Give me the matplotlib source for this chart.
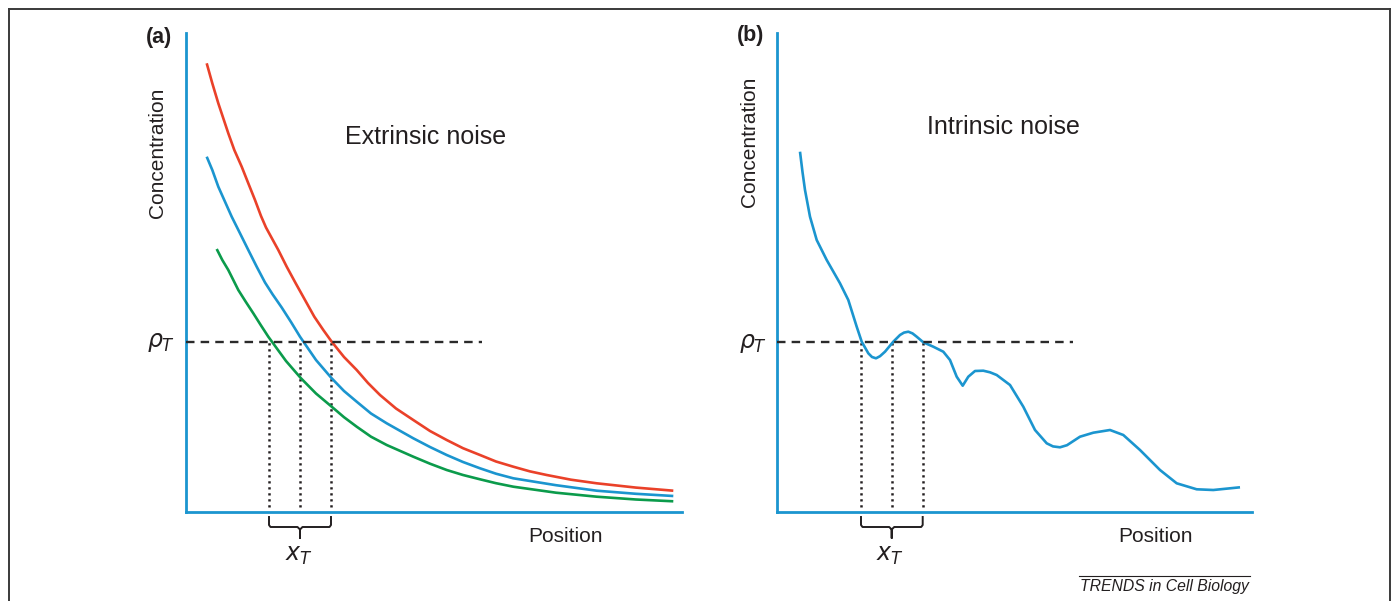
import matplotlib
matplotlib.use("Agg")
import matplotlib.pyplot as plt
from matplotlib.lines import Line2D

plt.rcParams['font.family'] = ['Liberation Sans', 'DejaVu Sans']
plt.rcParams['mathtext.fontset'] = 'dejavusans'

# ---------------- data (arbitrary units: position, concentration) ----------------
# Panel (a): extrinsic noise - three gradients
red_x = [20.7, 26.3, 32.3, 42.3, 48.3, 55.7, 62.3, 69, 75, 80, 86, 92.3, 100.7, 109.7, 119, 128.3, 137.3,
         145.7, 158, 170.7, 182, 194, 210, 227.3, 244, 260.7, 277, 294, 310, 327.3, 344, 360.7, 385, 410.7, 450, 487.3]
red_y = [448.7, 428.7, 408.7, 378.7, 362, 345.3, 328.7, 312, 296, 284.5, 273.5, 262, 245.3, 228.7, 212, 195.3, 182,
         170.3, 155, 142, 129, 117, 103.5, 92, 81, 72, 63.8, 57, 50.5, 45.3, 40.6, 37, 32.3, 28.7, 24.4, 21.3]

blue_x = [20.7, 26.3, 32.3, 39, 45.7, 54, 62.3, 70.7, 79, 86.7, 95.7, 105, 114, 130, 145.7, 158, 170.7, 185,
          200.7, 227.3, 244, 260.7, 277, 294, 310, 327.3, 370, 410.7, 450, 487.3]
blue_y = [355.3, 342, 325.3, 310.3, 295.3, 278.7, 262, 245.3, 229.5, 217.5, 204.5, 190, 175.3, 152, 133.7, 121, 110.3, 98.5,
          88.7, 73.7, 65, 57, 50, 43.7, 38.3, 33.7, 26.8, 21.3, 18.2, 16]

green_x = [30.7, 36.3, 42.3, 47.3, 52.3, 59.7, 67.3, 74.7, 82.3, 100, 115, 130, 145.7, 158, 170.7, 185, 200.7,
           227.3, 244, 260.7, 277, 294, 310, 327.3, 370, 410.7, 450, 487.3]
green_y = [263, 252, 242, 232, 222, 210.3, 198.7, 187, 175.3, 151, 133.7, 118.5, 105.3, 94.8, 85.3, 75.3, 67,
           55.3, 48.3, 42, 37, 32.7, 28.8, 25.3, 19.3, 15.3, 12.5, 10.7]

threshold_a = 170.5
crossings_a = [83, 114, 145]
dash_end_a = 296

# Panel (b): intrinsic noise - one noisy gradient
noisy_x = [23, 25.5, 28, 33, 39.7, 49.7, 63, 71.3, 79.7, 84.7, 91.3, 95, 99, 103, 108, 116.3, 123, 127, 131.3, 135.5, 139.7,
           146.3, 156.3, 166.3, 173, 179.7, 185.7, 191.3, 198, 206.3, 213, 219.7, 233, 246.3, 258,
           269.7, 276, 283, 290, 303, 316.3, 333, 346.3, 363, 383, 399.7, 419.7, 436.3, 463]
noisy_y = [360.3, 340, 322, 295.3, 272, 252, 228.7, 212, 185.3, 170.3, 158.7, 155, 153.7, 155.8, 160.3, 170.3, 177, 179.4, 180.3, 178.6, 175.3,
           169.7, 165.3, 160.3, 152, 135.3, 126.3, 135.3, 141, 141.3, 139.7, 137, 127, 105.3, 82,
           68.7, 65.6, 64.7, 66.8, 75.3, 79.3, 82, 77, 62, 42, 28.7, 22.7, 22, 24.7]

threshold_b = 170
crossings_b = [84, 114.7, 145.7]
dash_end_b = 296

# ---------------- styling ----------------
W, H = 1393, 601
BLUE = '#1b95cf'
RED = '#ea4129'
GREEN = '#0b9b4b'
INK = '#231f20'

fig = plt.figure(figsize=(W / 100, H / 100), dpi=100)


def px_axes(x0, x1, y_top, y_bot):
    return fig.add_axes([x0 / W, 1 - y_bot / H, (x1 - x0) / W, (y_bot - y_top) / H])


def style(ax, xmax, ymax):
    ax.set_xlim(0, xmax)
    ax.set_ylim(0, ymax)
    for s in ['top', 'right']:
        ax.spines[s].set_visible(False)
    for s in ['left', 'bottom']:
        ax.spines[s].set_color(BLUE)
        ax.spines[s].set_linewidth(2.0)
    ax.set_xticks([])
    ax.set_yticks([])
    ax.patch.set_alpha(0)


def markers(ax, thr, crosses, dash_end):
    ax.plot([0, dash_end], [thr, thr], color='#2a2a2a', lw=1.7, dashes=(3.6, 2.6), zorder=4)
    for cx in crosses:
        ax.plot([cx, cx], [5, thr], color=INK, lw=1.8, dashes=(0.9, 1.5), zorder=1)
    # brace under the x_T interval
    x0, x1 = crosses[0], crosses[-1]
    xc = crosses[1]
    bx = [x0, x0, x0 + 1.5, xc - 2.5, xc, xc, xc, xc + 2.5, x1 - 1.5, x1, x1]
    by = [-5, -13, -15, -15, -17.5, -26, -17.5, -15, -15, -13, -5]
    ax.plot(bx, by, color=INK, lw=1.4, clip_on=False, solid_joinstyle='round')


# Panel (a)
axa = px_axes(186, 682, 33, 512)
style(axa, 496, 479)
for xs, ys, c in [(red_x, red_y, RED), (blue_x, blue_y, BLUE), (green_x, green_y, GREEN)]:
    axa.plot(xs, ys, color=c, lw=1.9, zorder=3, solid_capstyle='butt', solid_joinstyle='round')
markers(axa, threshold_a, crossings_a, dash_end_a)

# Panel (b)
axb = px_axes(777, 1252, 33, 512)
style(axb, 475, 479)
axb.plot(noisy_x, noisy_y, color=BLUE, lw=1.9, zorder=3, solid_capstyle='butt', solid_joinstyle='round')
markers(axb, threshold_b, crossings_b, dash_end_b)


def ftext(px, py, s, **kw):
    fig.text(px / W, 1 - py / H, s, color=INK, **kw)


# labels panel (a)
ftext(159, 37, '(a)', fontsize=15.5, fontweight='bold', ha='center', va='center')
ftext(157, 153, 'Concentration', fontsize=15, rotation=90, ha='center', va='center')
ftext(426, 137, 'Extrinsic noise', fontsize=18, ha='center', va='center')
ftext(565, 536, 'Position', fontsize=15, ha='center', va='center')
ftext(175, 342, r'$\rho_T$', fontsize=17, ha='right', va='center')
ftext(299, 556, r'$x_T$', fontsize=17, ha='center', va='center')

# labels panel (b)
ftext(751, 36, '(b)', fontsize=15.5, fontweight='bold', ha='center', va='center')
ftext(750, 142, 'Concentration', fontsize=15, rotation=90, ha='center', va='center')
ftext(1003, 127, 'Intrinsic noise', fontsize=18, ha='center', va='center')
ftext(1155, 537, 'Position', fontsize=15, ha='center', va='center')
ftext(767, 343, r'$\rho_T$', fontsize=17, ha='right', va='center')
ftext(890, 556, r'$x_T$', fontsize=17, ha='center', va='center')

# journal footer
ftext(1164, 587, 'TRENDS in Cell Biology', fontsize=11.3, style='italic', ha='center', va='center')
fig.add_artist(Line2D([1079 / W, 1250 / W], [1 - 576 / H, 1 - 576 / H], color=INK, lw=0.8))

# frame around the figure (left, top, right)
fc = '#3a3a3a'
fig.add_artist(Line2D([8.5 / W, 8.5 / W], [0, 1 - 8.5 / H], color=fc, lw=1.4))
fig.add_artist(Line2D([8.5 / W, 1390 / W], [1 - 8.5 / H, 1 - 8.5 / H], color=fc, lw=1.4))
fig.add_artist(Line2D([1390 / W, 1390 / W], [0, 1 - 8.5 / H], color=fc, lw=1.4))

fig.savefig('out.png', dpi=100)
